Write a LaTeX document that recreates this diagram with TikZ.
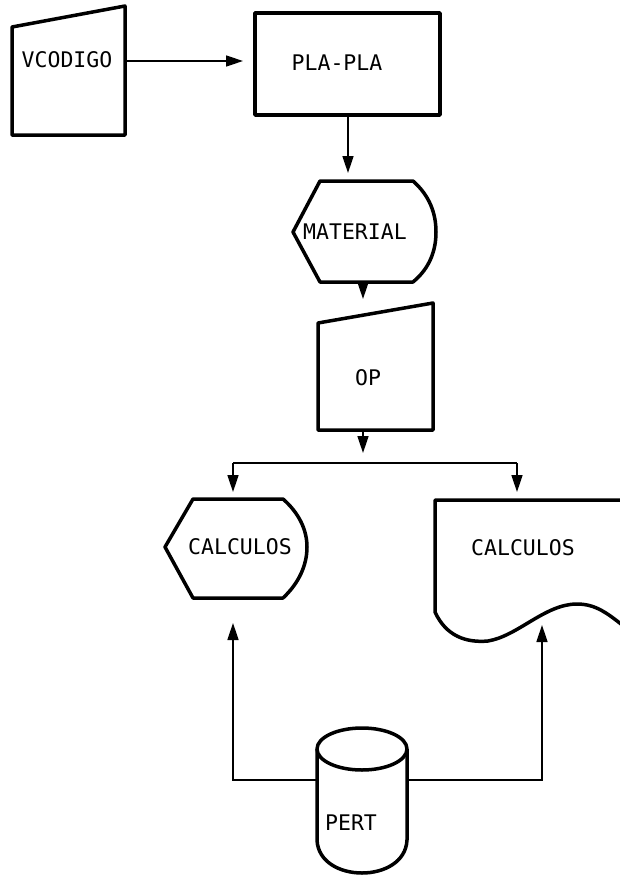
\documentclass[tikz,border=0pt]{standalone}
\usepackage{fontspec}
\newfontfamily\dm{DejaVu Sans Mono}
\usetikzlibrary{arrows.meta}
\begin{document}
\begin{tikzpicture}[x=1pt,y=-1pt,
  shapeline/.style={line width=3.5pt, line join=round},
  conn/.style={line width=1.6pt},
  arr/.style={conn,-{Triangle[length=17pt,width=11pt]}},
  lbl/.style={font=\dm\fontsize{21.5}{21.5}\selectfont, inner sep=0pt, anchor=center}]
\useasboundingbox[fill=white] (0,0) rectangle (619,876);

% VCODIGO (manual input)
\draw[shapeline] (12,27) -- (125,6) -- (125,135) -- (12,135) -- cycle;
\node[lbl] (vcodigo) at (67,60) {VCODIGO};
\coordinate (vc_e) at (125,61);

% PLA-PLA (process)
\draw[shapeline] (255,13) rectangle (440,115);
\node[lbl] (plapla) at (337,63) {PLA-PLA};
\coordinate (pp_w) at (243,61);
\coordinate (pp_s) at (348,115);

% MATERIAL (display)
\draw[shapeline] (293,232) -- (320,181) -- (413,181)
  .. controls (430,196) and (436,214) .. (436,232)
  .. controls (436,250) and (430,268) .. (413,282) -- (320,282) -- cycle;
\node[lbl] (material) at (355,232) {MATERIAL};
\coordinate (mat_n) at (348,173);
\coordinate (mat_s) at (363,282);
\coordinate (mat_out) at (363,299);

% OP (manual input)
\draw[shapeline] (318,323) -- (433,303) -- (433,430) -- (318,430) -- cycle;
\node[lbl] (op) at (368,378) {OP};
\coordinate (op_s) at (363,430);
\coordinate (op_out) at (363,453);

% branch
\coordinate (br_l) at (233,463);
\coordinate (br_r) at (517,463);
\coordinate (cl_n) at (233,492);
\coordinate (cr_n) at (517,492);

% CALCULOS left (display)
\draw[shapeline] (165,547) -- (193,499) -- (283,499)
  .. controls (299,513) and (307,530) .. (307,547)
  .. controls (307,565) and (299,583) .. (283,598) -- (193,598) -- cycle;
\node[lbl] (calc1) at (240,547) {CALCULOS};

% CALCULOS right (document)
\draw[shapeline] (621,500) -- (435,500) -- (435,612)
  .. controls (446,636) and (466,643) .. (488,641)
  .. controls (518,636) and (545,604) .. (577,604)
  .. controls (596,604) and (608,614) .. (621,624);
\node[lbl] (calc2) at (523,548) {CALCULOS};

% PERT (cylinder)
\draw[shapeline] (317,749) -- (317,840)
  .. controls (318,862) and (340,873) .. (362,873)
  .. controls (384,873) and (406,862) .. (407,840) -- (407,749);
\draw[shapeline] (362,749) ellipse [x radius=45pt, y radius=21pt];
\node[lbl] (pert) at (351,823) {PERT};
\coordinate (pert_w) at (317,780);
\coordinate (pert_e) at (407,780);
\coordinate (pl_c) at (233,780);
\coordinate (pr_c) at (542,780);
\coordinate (cl_s) at (233,623);
\coordinate (cr_s) at (542,625);

% connectors
\draw[arr] (vc_e) -- (pp_w);
\draw[arr] (pp_s) -- (mat_n);
\draw[arr] (mat_s) -- (mat_out);
\draw[arr] (op_s) -- (op_out);
\draw[conn] (br_l) -- (br_r);
\draw[arr] (br_l) -- (cl_n);
\draw[arr] (br_r) -- (cr_n);
\draw[arr] (pert_w) -- (pl_c) -- (cl_s);
\draw[arr] (pert_e) -- (pr_c) -- (cr_s);
\end{tikzpicture}
\end{document}
